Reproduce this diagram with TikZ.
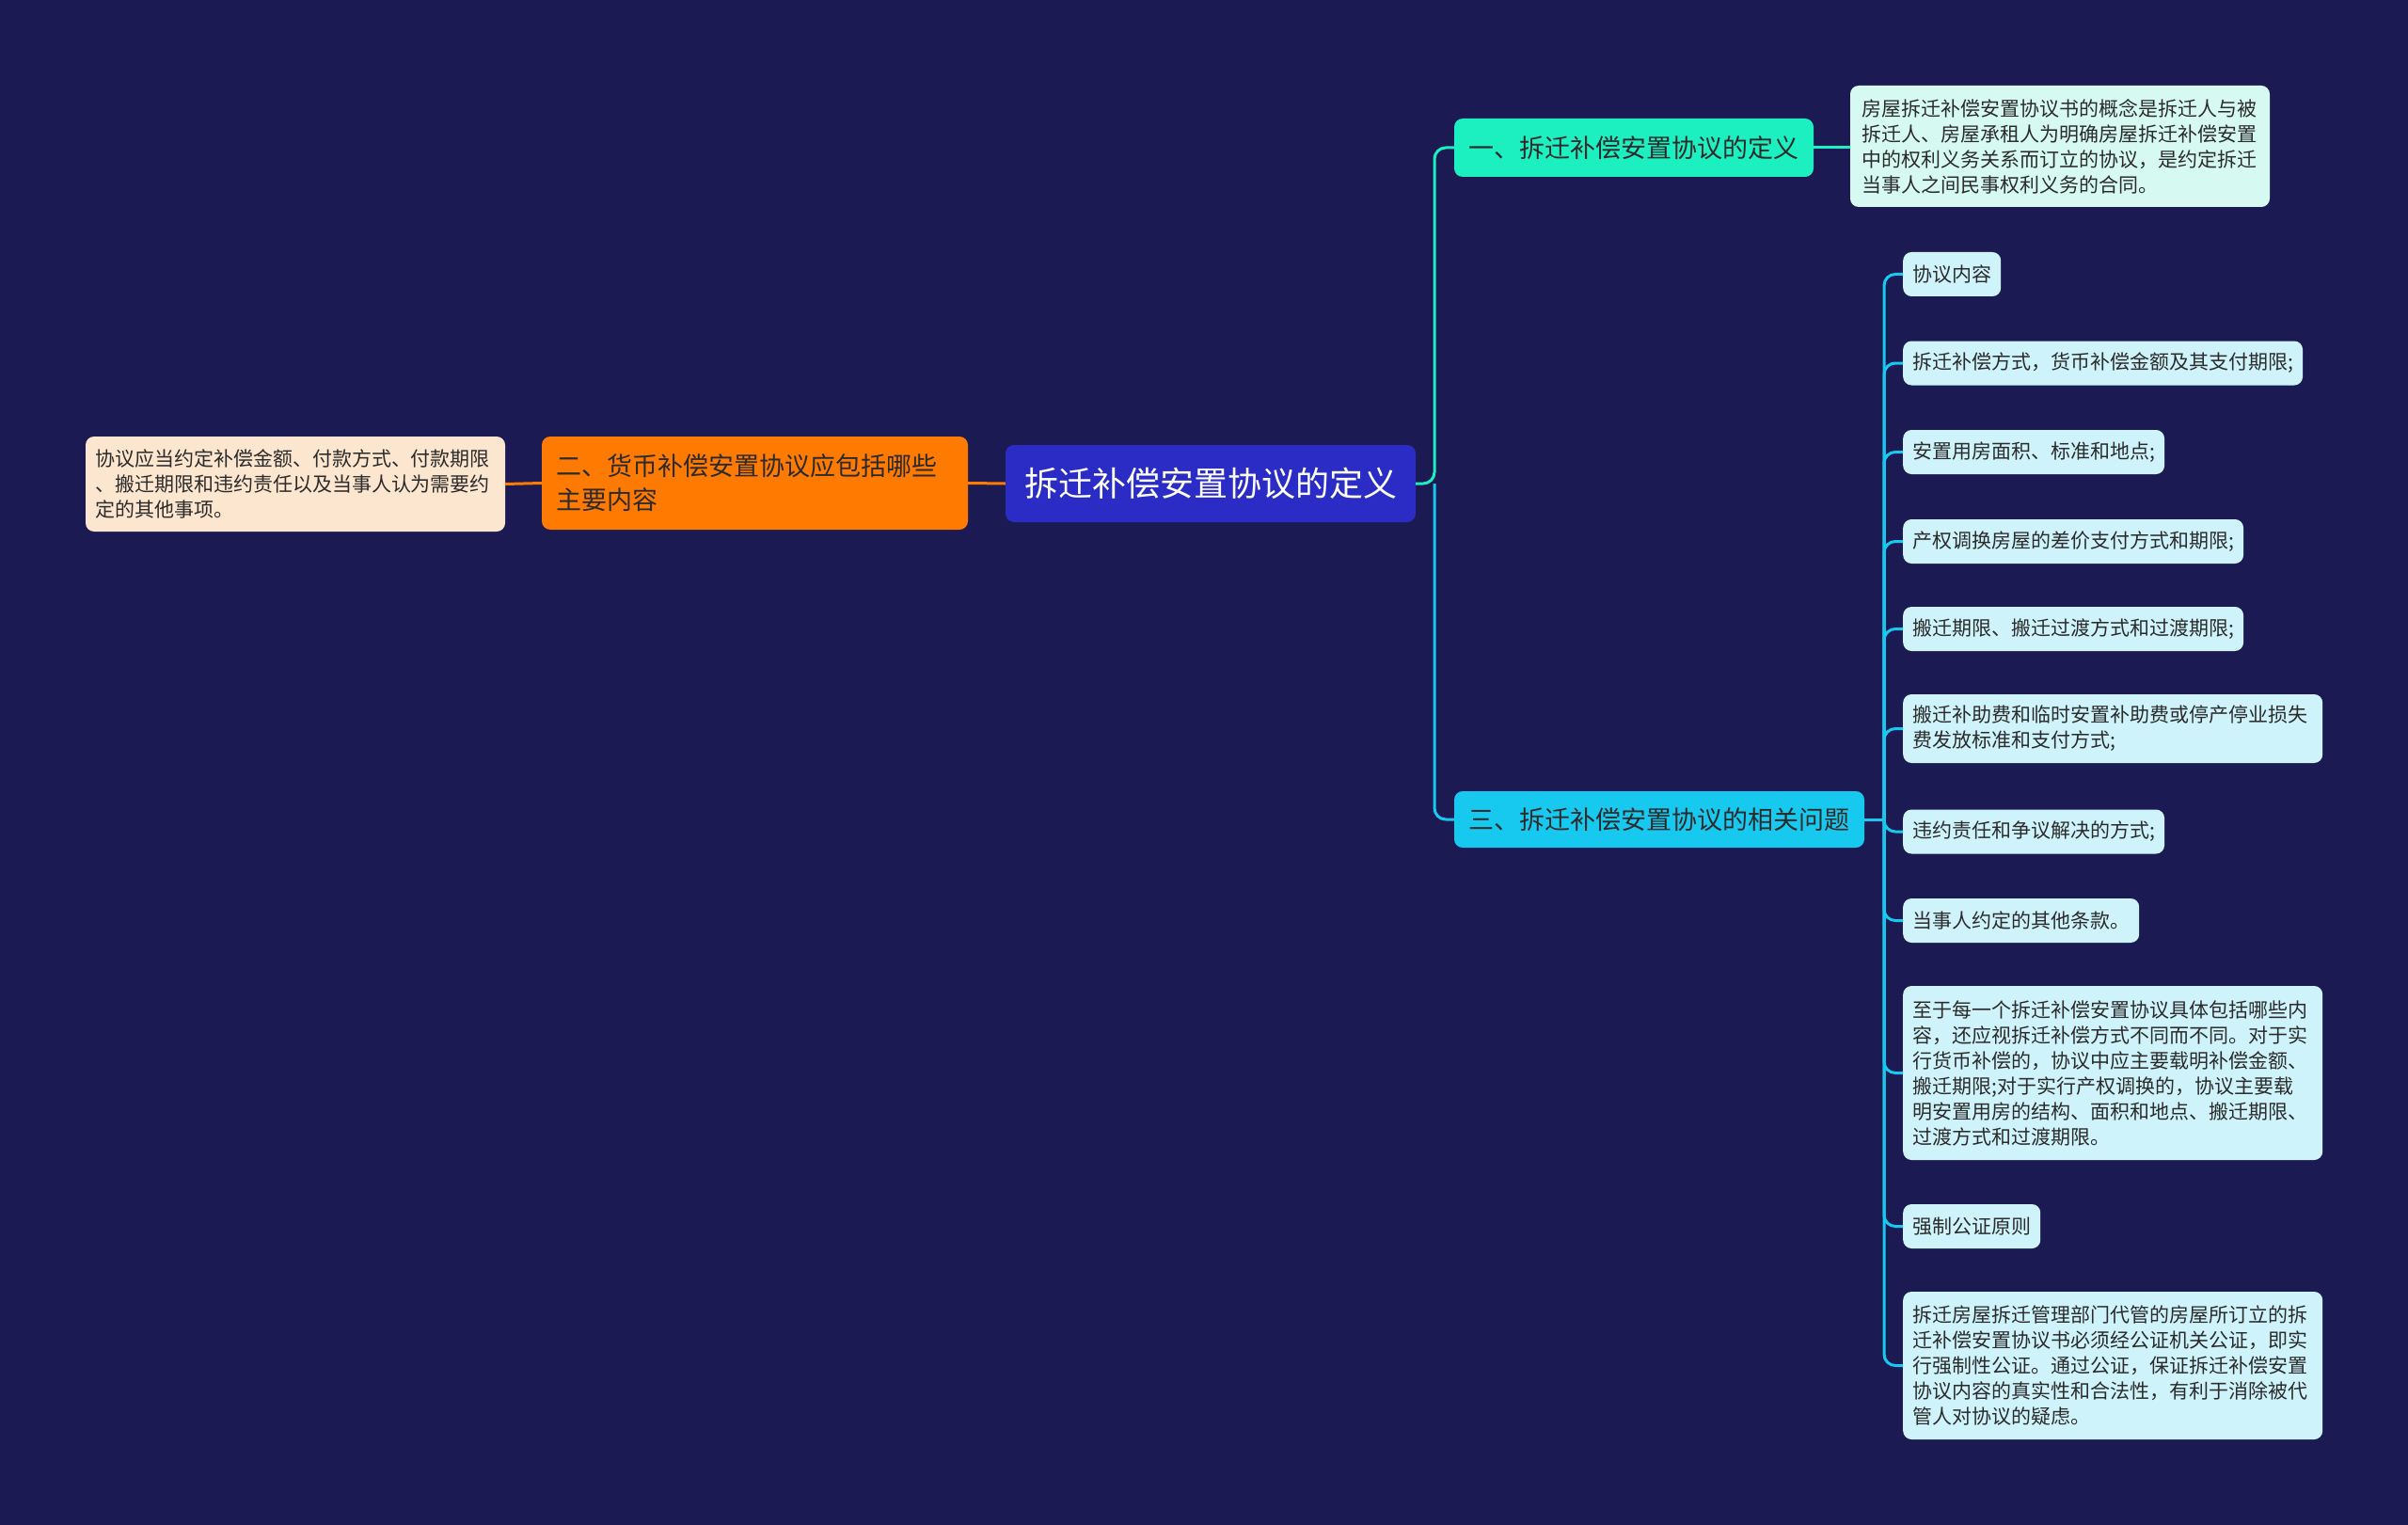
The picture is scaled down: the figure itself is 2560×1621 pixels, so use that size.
\documentclass[tikz,border=0pt]{standalone}
\usepackage{fontspec}
\setmainfont{Noto Sans CJK SC}
\definecolor{bg}{HTML}{1B1A52}
\definecolor{rootc}{HTML}{2B2BC6}
\definecolor{orangec}{HTML}{FF7A00}
\definecolor{peach}{HTML}{FDE6CF}
\definecolor{mint}{HTML}{1CEFC0}
\definecolor{mintl}{HTML}{D6FAF1}
\definecolor{cyanc}{HTML}{17C9EF}
\definecolor{cyanl}{HTML}{CFF3FB}
\definecolor{txt}{HTML}{2B2B2B}
\begin{document}
\begin{tikzpicture}[x=1pt,y=-1pt,
  box/.style={rectangle, rounded corners=9pt, inner xsep=10pt, inner ysep=0pt, align=left, text=txt},
  leaf/.style={box, fill=cyanl, font=\fontsize{21}{27}\selectfont, minimum height=47pt, anchor=west},
  wideleaf/.style={leaf, text width=426pt},
  conn/.style={line width=3pt, rounded corners=12pt},
]
\fill[bg] (0,0) rectangle (2560,1621);
\useasboundingbox (0,0) rectangle (2560,1621);

% root and main branches
\node[box, fill=rootc, text=white, font=\fontsize{36}{44}\selectfont, minimum width=436pt, minimum height=82pt, align=center] (root) at (1287,514) {拆迁补偿安置协议的定义};
\node[box, fill=orangec, font=\fontsize{27}{36}\selectfont, inner xsep=15pt, text width=423pt, minimum height=99pt] (orn) at (802.5,513.5) {二、货币补偿安置协议应包括哪些\\主要内容};
\node[box, fill=peach, font=\fontsize{21}{27}\selectfont, text width=426pt, minimum height=101pt] (lft) at (314,514.5) {协议应当约定补偿金额、付款方式、付款期限\\、搬迁期限和违约责任以及当事人认为需要约\\定的其他事项。};
\node[box, fill=mint, font=\fontsize{27}{34}\selectfont, minimum width=382pt, minimum height=62pt, align=center] (b1) at (1737,157) {一、拆迁补偿安置协议的定义};
\node[box, fill=mintl, font=\fontsize{21}{27}\selectfont, inner xsep=12pt, text width=422pt, minimum height=129pt] (d1) at (2190,155.5) {房屋拆迁补偿安置协议书的概念是拆迁人与被\\拆迁人、房屋承租人为明确房屋拆迁补偿安置\\中的权利义务关系而订立的协议，是约定拆迁\\当事人之间民事权利义务的合同。};
\node[box, fill=cyanc, font=\fontsize{27}{34}\selectfont, minimum width=436pt, minimum height=60pt, align=center] (b3) at (1764,871) {三、拆迁补偿安置协议的相关问题};

% children of branch 3
\node[leaf] (c1) at (2023,291.5) {协议内容};
\node[leaf] (c2) at (2023,386) {拆迁补偿方式，货币补偿金额及其支付期限;};
\node[leaf] (c3) at (2023,480.5) {安置用房面积、标准和地点;};
\node[leaf] (c4) at (2023,575.5) {产权调换房屋的差价支付方式和期限;};
\node[leaf] (c5) at (2023,668.5) {搬迁期限、搬迁过渡方式和过渡期限;};
\node[wideleaf, minimum height=73pt] (c6) at (2023,774.5) {搬迁补助费和临时安置补助费或停产停业损失\\费发放标准和支付方式;};
\node[leaf] (c7) at (2023,884) {违约责任和争议解决的方式;};
\node[leaf] (c8) at (2023,978.5) {当事人约定的其他条款。};
\node[wideleaf, minimum height=185pt] (c9) at (2023,1140.5) {至于每一个拆迁补偿安置协议具体包括哪些内\\容，还应视拆迁补偿方式不同而不同。对于实\\行货币补偿的，协议中应主要载明补偿金额、\\搬迁期限;对于实行产权调换的，协议主要载\\明安置用房的结构、面积和地点、搬迁期限、\\过渡方式和过渡期限。};
\node[leaf] (c10) at (2023,1303.5) {强制公证原则};
\node[wideleaf, minimum height=157pt] (c11) at (2023,1451.5) {拆迁房屋拆迁管理部门代管的房屋所订立的拆\\迁补偿安置协议书必须经公证机关公证，即实\\行强制性公证。通过公证，保证拆迁补偿安置\\协议内容的真实性和合法性，有利于消除被代\\管人对协议的疑虑。};

% connectors
\coordinate (j1) at (1525,514);
\coordinate (j3) at (2003,871);
\draw[conn, orangec] (orn.west) -- (lft.east);
\draw[conn, orangec] (root.west) -- (orn.east);
\draw[conn, mint] (root.east) -- (j1) |- (b1.west);
\draw[conn, cyanc] (j1) |- (b3.west);
\draw[conn, mint] (b1.east) -- (d1.west |- b1.east);
\draw[conn, cyanc] (b3.east) -- (j3);
\foreach \c in {c1,c2,c3,c4,c5,c6,c7,c8,c9,c10,c11}
  \draw[conn, cyanc] (j3) |- (\c.west);
\end{tikzpicture}
\end{document}
